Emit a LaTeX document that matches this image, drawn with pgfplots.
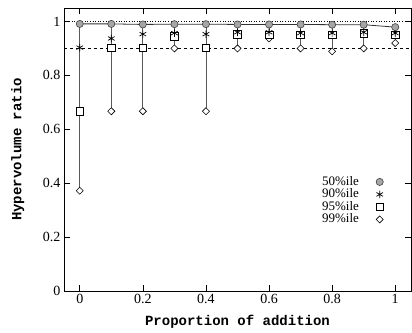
\documentclass[border=0pt]{standalone}
\usepackage{pgfplots}
\usepackage{pgfplotstable}
\pgfplotsset{compat=1.18}
\usepackage{fontspec}
\setmainfont{Liberation Serif}
\newfontfamily\cour{Liberation Mono}
\pgfplotstableread{
x    p50   p90   p95   p99
0.0  0.991 0.903 0.667 0.372
0.1  0.991 0.937 0.902 0.667
0.2  0.989 0.953 0.902 0.667
0.3  0.990 0.957 0.945 0.900
0.4  0.990 0.953 0.902 0.667
0.5  0.989 0.960 0.953 0.900
0.6  0.989 0.960 0.950 0.937
0.7  0.989 0.957 0.950 0.900
0.8  0.988 0.957 0.950 0.889
0.9  0.988 0.960 0.957 0.900
1.0  0.979 0.957 0.950 0.920
}\data
\begin{document}
\begin{tikzpicture}[font=\fontsize{14}{16}\selectfont]
\useasboundingbox (-64pt,-41pt) rectangle (348pt,291pt);
\begin{axis}[
  scale only axis, width=347pt, height=283pt,
  at={(0,0)}, anchor=south west,
  xmin=-0.05, xmax=1.05, ymin=0, ymax=1.05,
  xtick={0,0.2,0.4,0.6,0.8,1}, ytick={0,0.2,0.4,0.6,0.8,1},
  tick align=inside, major tick length=6pt,
  axis line style={line width=0.8pt}, every tick/.style={black, line width=0.6pt},
  /pgf/number format/assume math mode=true,
  tick label style={font=\fontsize{14}{16}\selectfont},
  xlabel={\cour\bfseries Proportion of addition},
  ylabel={\cour\bfseries Hypervolume ratio},
  x label style={at={(axis description cs:0.5,-0.11)}, anchor=center},
  y label style={at={(axis description cs:-0.133,0.5)}, anchor=center, rotate=0},
  legend style={draw=none, fill=none, at={(rel axis cs:0.93,0.41)}, anchor=north east,
    font=\fontsize{13}{13}\selectfont, row sep=3pt, column sep=17pt,
    nodes={inner sep=0pt, text height=8pt, text depth=1.5pt}},
  legend plot pos=right, legend cell align=right, reverse legend,
]
\addplot[black, dotted, line width=0.6pt, forget plot] coordinates {(-0.05,1) (1.05,1)};
\addplot[black, dashed, line width=0.6pt, forget plot] coordinates {(-0.05,0.9) (1.05,0.9)};
\addplot[black!80, line width=0.8pt, mark=none, forget plot,
  error bars/.cd, y dir=minus, y explicit, error mark=none,
  error bar style={black!65, line width=0.8pt}]
  table[x=x, y=p50, y error minus expr=\thisrow{p50}-\thisrow{p99}] {\data};
\addplot[only marks, mark=square*, mark size=2.5pt, mark options={rotate=45, fill=white, draw=black, line width=0.6pt}] table[x=x,y=p99] {\data};
\addlegendentry{99\%ile}
\addplot[only marks, mark=square*, mark size=3.8pt, mark options={fill=white, draw=black, line width=0.6pt}] table[x=x,y=p95] {\data};
\addlegendentry{95\%ile}
\addplot[only marks, mark=asterisk, mark size=3.8pt, mark options={draw=black, line width=0.7pt}] table[x=x,y=p90] {\data};
\addlegendentry{90\%ile}
\addplot[only marks, mark=*, mark size=3.6pt, mark options={fill=black!35, draw=black!75, line width=0.6pt}] table[x=x,y=p50] {\data};
\addlegendentry{50\%ile}
\end{axis}
\end{tikzpicture}
\end{document}
